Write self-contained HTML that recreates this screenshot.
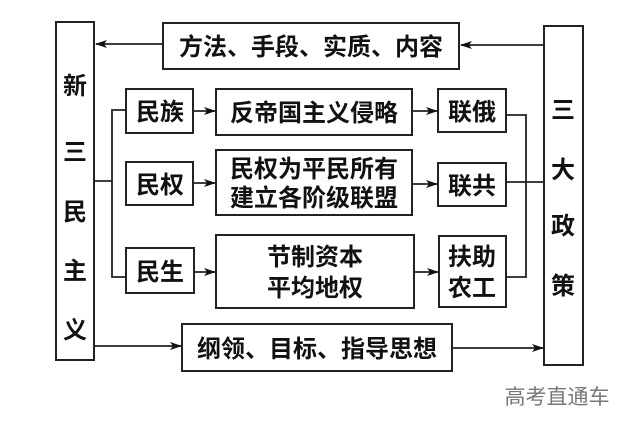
<!DOCTYPE html>
<html><head><meta charset="utf-8"><style>
html,body{margin:0;padding:0;background:#fff}
text{font-family:"Liberation Sans","Noto Sans CJK SC",sans-serif;fill:#111;font-weight:bold}
</style></head><body>
<svg width="640" height="436" viewBox="0 0 640 436" xmlns="http://www.w3.org/2000/svg">
<defs><marker id="a" markerWidth="12" markerHeight="8" refX="11" refY="4" orient="auto" markerUnits="userSpaceOnUse"><path d="M0,0 L12,4 L0,8 L3,4 Z" fill="#111"/></marker></defs>
<g fill="none" stroke="#222" stroke-width="2">
<rect x="56" y="22" width="38" height="338"/>
<rect x="544" y="26" width="39" height="339"/>
<rect x="163" y="23" width="296" height="46"/>
<rect x="126" y="89" width="67" height="44"/>
<rect x="216" y="89" width="196" height="46"/>
<rect x="438" y="89" width="68" height="43"/>
<rect x="126" y="162" width="67" height="43"/>
<rect x="216" y="150" width="196" height="65"/>
<rect x="438" y="163" width="68" height="43"/>
<rect x="126" y="248" width="68" height="45"/>
<rect x="216" y="235" width="198" height="73"/>
<rect x="439" y="236" width="67" height="71"/>
<rect x="182" y="324" width="270" height="47"/>
</g>
<g stroke="#222" stroke-width="1.8" fill="none">
<line x1="544" y1="45" x2="461" y2="45" marker-end="url(#a)"/>
<line x1="163" y1="44" x2="96" y2="44" marker-end="url(#a)"/>
<line x1="94" y1="181" x2="112" y2="181"/>
<polyline points="126,110 112,110 112,277 126,277"/>
<line x1="193" y1="111" x2="215" y2="111" marker-end="url(#a)"/>
<line x1="193" y1="183" x2="215" y2="183" marker-end="url(#a)"/>
<line x1="194" y1="272" x2="215" y2="272" marker-end="url(#a)"/>
<line x1="412" y1="111" x2="437" y2="111" marker-end="url(#a)"/>
<line x1="412" y1="184" x2="437" y2="184" marker-end="url(#a)"/>
<line x1="414" y1="272" x2="438" y2="272" marker-end="url(#a)"/>
<polyline points="506,115 526,115 526,277 506,277"/>
<line x1="506" y1="182" x2="544" y2="182"/>
<line x1="94" y1="346" x2="181" y2="346" marker-end="url(#a)"/>
<line x1="452" y1="348" x2="543" y2="348" marker-end="url(#a)"/>
</g>
<g font-size="24" text-anchor="middle">
<text x="311" y="55">方法、手段、实质、内容</text>
<text x="160" y="120">民族</text>
<text x="314" y="121">反帝国主义侵略</text>
<text x="472" y="120">联俄</text>
<text x="160" y="193">民权</text>
<text x="314" y="177">民权为平民所有</text>
<text x="314" y="206">建立各阶级联盟</text>
<text x="472" y="194">联共</text>
<text x="160" y="280">民生</text>
<text x="315" y="265">节制资本</text>
<text x="315" y="296">平均地权</text>
<text x="472" y="265">扶助</text>
<text x="472" y="296">农工</text>
<text x="317" y="357">纲领、目标、指导思想</text>
<text x="75" y="94">新</text>
<text x="75" y="160">三</text>
<text x="75" y="220">民</text>
<text x="75" y="279">主</text>
<text x="75" y="338">义</text>
<text x="563" y="118">三</text>
<text x="563" y="178">大</text>
<text x="563" y="234">政</text>
<text x="563" y="294">策</text>
</g>
<text x="557" y="404" font-size="21" text-anchor="middle" style="fill:#777;font-weight:normal">高考直通车</text>
</svg>
</body></html>
